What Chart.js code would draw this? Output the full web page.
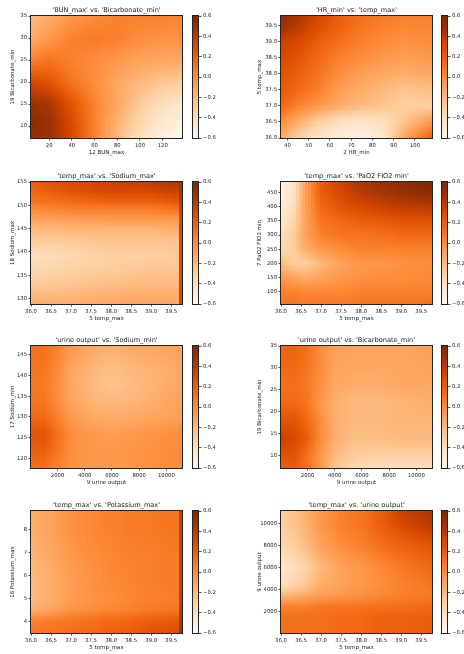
<!DOCTYPE html>
<html>
<head>
<meta charset="utf-8">
<script src="https://cdn.jsdelivr.net/npm/chart.js@4.4.0/dist/chart.umd.min.js"></script>
<style>
  html, body { margin: 0; padding: 0; background: #fff; overflow: hidden; }
  #fig { position: relative; width: 464px; height: 654px; overflow: hidden; }
  #fig canvas { position: absolute; }
</style>
</head>
<body>
<div id="fig"></div>
<script>
// ---- data: grid points (rows listed top to bottom) ----

// 'BUN_max' vs. 'Bicarbonate_min'
const bunX = [5, 20, 40, 60, 80, 100, 120, 136];
const bicarbY = [35, 30, 25, 20, 15, 10, 7];
const bunBicarbZ = [
  [-0.20, -0.15, -0.05, 0.00, 0.05, 0.05, 0.05, 0.05],
  [-0.15, -0.05, 0.05, 0.08, 0.05, 0.00, -0.02, -0.02],
  [0.05, 0.10, 0.05, 0.00, -0.05, -0.10, -0.12, -0.12],
  [0.30, 0.25, 0.10, 0.00, -0.12, -0.20, -0.25, -0.28],
  [0.50, 0.45, 0.25, 0.05, -0.12, -0.28, -0.40, -0.45],
  [0.55, 0.50, 0.30, 0.05, -0.18, -0.35, -0.48, -0.55],
  [0.52, 0.50, 0.30, 0.05, -0.20, -0.40, -0.55, -0.60]
];

// 'HR_min' vs. 'temp_max'
const hrX = [37, 45, 55, 65, 75, 85, 95, 108];
const tempY = [39.8, 39.5, 39.0, 38.5, 38.0, 37.5, 37.0, 36.5, 36.0];
const hrTempZ = [
  [0.55, 0.45, 0.30, 0.20, 0.12, 0.08, 0.05, 0.05],
  [0.50, 0.40, 0.28, 0.18, 0.10, 0.05, 0.03, 0.03],
  [0.35, 0.30, 0.20, 0.12, 0.05, 0.00, -0.02, 0.00],
  [0.30, 0.25, 0.15, 0.05, 0.00, -0.05, -0.08, -0.05],
  [0.25, 0.20, 0.10, 0.00, -0.08, -0.12, -0.15, -0.12],
  [0.22, 0.15, 0.05, -0.08, -0.15, -0.20, -0.25, -0.22],
  [0.15, 0.05, -0.05, -0.15, -0.20, -0.25, -0.30, -0.30],
  [0.00, -0.15, -0.30, -0.40, -0.45, -0.40, -0.25, -0.05],
  [-0.15, -0.30, -0.45, -0.50, -0.55, -0.45, -0.10, 0.20]
];

// 'temp_max' vs. 'Sodium_max'
const tempX5 = [36.0, 37.0, 38.0, 39.0, 39.70, 39.72];
const sodiumMaxY = [155, 153, 151, 149, 147, 145, 142, 139, 136, 133, 129];
const tempSodiumZ = [
  [0.20, 0.30, 0.35, 0.40, 0.45, 0.50],
  [0.15, 0.25, 0.30, 0.30, 0.35, 0.45],
  [0.10, 0.15, 0.20, 0.20, 0.25, 0.40],
  [0.00, 0.05, 0.05, 0.05, 0.10, 0.35],
  [-0.10, -0.08, -0.05, -0.05, -0.05, 0.30],
  [-0.20, -0.18, -0.18, -0.18, -0.15, 0.30],
  [-0.30, -0.28, -0.25, -0.25, -0.25, 0.30],
  [-0.40, -0.35, -0.30, -0.30, -0.28, 0.30],
  [-0.35, -0.30, -0.28, -0.25, -0.25, 0.30],
  [-0.28, -0.25, -0.22, -0.20, -0.20, 0.30],
  [-0.15, -0.15, -0.12, -0.12, -0.12, 0.30]
];

// 'temp_max' vs. 'PaO2 FIO2 min'
const tempX9 = [36.0, 36.3, 36.6, 37.0, 37.5, 38.0, 38.5, 39.0, 39.77];
const pao2Y = [488, 450, 400, 350, 300, 250, 200, 150, 100, 56];
const tempPao2Z = [
  [-0.55, -0.45, -0.10, 0.20, 0.35, 0.45, 0.50, 0.55, 0.60],
  [-0.55, -0.45, -0.10, 0.20, 0.30, 0.40, 0.45, 0.50, 0.55],
  [-0.50, -0.40, -0.10, 0.15, 0.25, 0.30, 0.35, 0.38, 0.40],
  [-0.45, -0.35, -0.10, 0.10, 0.15, 0.20, 0.22, 0.25, 0.25],
  [-0.40, -0.30, -0.10, 0.05, 0.10, 0.10, 0.12, 0.15, 0.15],
  [-0.35, -0.30, -0.15, -0.05, 0.00, 0.05, 0.05, 0.05, 0.05],
  [-0.20, -0.30, -0.30, -0.20, -0.10, -0.05, -0.05, -0.02, 0.00],
  [-0.05, -0.10, -0.15, -0.10, -0.05, -0.02, 0.00, 0.00, 0.02],
  [0.05, 0.05, 0.02, 0.02, 0.02, 0.05, 0.05, 0.05, 0.05],
  [0.10, 0.10, 0.08, 0.08, 0.08, 0.10, 0.10, 0.10, 0.12]
];

// 'urine output' vs. 'Sodium_min'
const urineX5 = [50, 1000, 2000, 3000, 4500, 6000, 8000, 10000, 11150];
const sodiumMinY = [147, 142, 138, 134, 130, 126, 122, 118];
const urineSodiumZ = [
  [0.12, 0.12, 0.05, -0.05, -0.12, -0.15, -0.12, -0.10, -0.10],
  [0.10, 0.10, 0.02, -0.10, -0.18, -0.22, -0.18, -0.15, -0.12],
  [0.08, 0.08, 0.00, -0.12, -0.20, -0.25, -0.20, -0.15, -0.12],
  [0.10, 0.10, 0.00, -0.10, -0.18, -0.20, -0.18, -0.12, -0.10],
  [0.15, 0.15, 0.05, -0.05, -0.12, -0.15, -0.12, -0.10, -0.08],
  [0.25, 0.25, 0.12, 0.00, -0.05, -0.08, -0.05, -0.02, 0.00],
  [0.20, 0.20, 0.10, 0.00, -0.05, -0.05, -0.03, 0.00, 0.00],
  [0.12, 0.12, 0.05, -0.02, -0.05, -0.05, -0.03, 0.00, 0.00]
];

// 'urine output' vs. 'Bicarbonate_min'
const urineX6 = [50, 1000, 2000, 3000, 4000, 5500, 7000, 9000, 11150];
const bicarbY6 = [35, 30, 26, 22, 18, 14, 10, 7];
const urineBicarbZ = [
  [0.18, 0.18, 0.12, 0.00, -0.08, -0.10, -0.10, -0.10, -0.08],
  [0.15, 0.15, 0.10, 0.00, -0.10, -0.12, -0.12, -0.12, -0.10],
  [0.12, 0.12, 0.08, -0.02, -0.12, -0.15, -0.15, -0.12, -0.12],
  [0.15, 0.15, 0.10, -0.05, -0.15, -0.20, -0.20, -0.18, -0.15],
  [0.25, 0.25, 0.15, 0.00, -0.15, -0.20, -0.20, -0.18, -0.18],
  [0.35, 0.30, 0.20, 0.00, -0.15, -0.22, -0.22, -0.20, -0.20],
  [0.25, 0.25, 0.12, -0.05, -0.20, -0.28, -0.30, -0.30, -0.30],
  [0.20, 0.20, 0.10, -0.05, -0.25, -0.35, -0.40, -0.40, -0.40]
];

// 'temp_max' vs. 'Potassium_max'
const tempX10 = [36.0, 36.5, 37.0, 37.5, 38.0, 38.5, 39.0, 39.5, 39.70, 39.72];
const potassiumY = [8.8, 8.0, 7.0, 6.0, 5.0, 4.5, 4.0, 3.5];
const tempPotassiumZ = [
  [-0.15, -0.10, -0.02, 0.02, 0.05, 0.08, 0.08, 0.10, 0.10, 0.35],
  [-0.15, -0.10, -0.02, 0.02, 0.05, 0.08, 0.08, 0.10, 0.10, 0.35],
  [-0.18, -0.12, -0.05, 0.00, 0.03, 0.05, 0.06, 0.08, 0.08, 0.35],
  [-0.20, -0.15, -0.07, -0.02, 0.02, 0.04, 0.06, 0.08, 0.08, 0.35],
  [-0.22, -0.15, -0.08, -0.03, 0.00, 0.03, 0.05, 0.06, 0.06, 0.35],
  [-0.15, -0.10, -0.03, 0.00, 0.03, 0.05, 0.08, 0.10, 0.10, 0.38],
  [0.05, 0.08, 0.10, 0.12, 0.15, 0.18, 0.20, 0.22, 0.22, 0.42],
  [0.08, 0.10, 0.12, 0.15, 0.18, 0.20, 0.25, 0.28, 0.28, 0.45]
];

// 'temp_max' vs. 'urine output'
const tempX8 = [36.0, 36.5, 37.0, 37.5, 38.0, 38.5, 39.0, 39.77];
const urineY = [11150, 10000, 8000, 6000, 4500, 3500, 2500, 1500, 57];
const tempUrineZ = [
  [-0.30, -0.20, -0.05, 0.05, 0.10, 0.20, 0.35, 0.45],
  [-0.30, -0.20, -0.05, 0.05, 0.10, 0.20, 0.30, 0.40],
  [-0.35, -0.25, -0.10, 0.00, 0.05, 0.12, 0.18, 0.25],
  [-0.45, -0.35, -0.20, -0.10, -0.05, 0.02, 0.08, 0.15],
  [-0.40, -0.30, -0.15, -0.10, -0.05, 0.00, 0.05, 0.10],
  [-0.20, -0.15, -0.08, -0.05, -0.02, 0.02, 0.05, 0.08],
  [0.05, 0.05, 0.08, 0.10, 0.10, 0.12, 0.12, 0.15],
  [0.12, 0.12, 0.12, 0.15, 0.15, 0.18, 0.18, 0.20],
  [0.12, 0.12, 0.12, 0.15, 0.15, 0.18, 0.18, 0.20]
];

// tick labels
const bunTicks = [20, 40, 60, 80, 100, 120];
const bicarbTicks = [10, 15, 20, 25, 30, 35];
const hrTicks = [40, 50, 60, 70, 80, 90, 100];
const tempTicks = [36.0, 36.5, 37.0, 37.5, 38.0, 38.5, 39.0, 39.5];
const sodiumMaxTicks = [130, 135, 140, 145, 150, 155];
const pao2Ticks = [100, 150, 200, 250, 300, 350, 400, 450];
const urineTicks = [2000, 4000, 6000, 8000, 10000];
const sodiumMinTicks = [120, 125, 130, 135, 140, 145];
const potassiumTicks = [4, 5, 6, 7, 8];
const colorbarTicks = [-0.6, -0.4, -0.2, 0.0, 0.2, 0.4, 0.6];

// ---- drawing ----
const FONT = 'DejaVu Sans';
const TEXT = '#1a1a1a';
const ORANGES = ['#fff5eb', '#fee6ce', '#fdd0a2', '#fdae6b', '#fd8d3c', '#f16913', '#d94801', '#a63603', '#7f2704'];
const VMIN = -0.6, VMAX = 0.6;
const CELLS = 50;

const stops = ORANGES.map(h => [1, 3, 5].map(i => parseInt(h.substr(i, 2), 16)));

function colorFor(v) {
  let t = (v - VMIN) / (VMAX - VMIN);
  t = Math.max(0, Math.min(1, t)) * (stops.length - 1);
  const i = Math.min(Math.floor(t), stops.length - 2);
  const f = t - i;
  return stops[i].map((c, k) => Math.round(c + (stops[i + 1][k] - c) * f));
}

// find segment of a monotonic array that holds v
function locate(arr, v) {
  const n = arr.length;
  for (let i = 0; i < n - 1; i++) {
    const a = arr[i], b = arr[i + 1];
    if (v >= Math.min(a, b) && v <= Math.max(a, b)) return [i, (v - a) / (b - a)];
  }
  const asc = arr[n - 1] > arr[0];
  if ((asc && v < arr[0]) || (!asc && v > arr[0])) return [0, 0];
  return [n - 2, 1];
}

function gridValue(g, xv, yv) {
  const [i, fx] = locate(g.xs, xv);
  const [j, fy] = locate(g.ys, yv);
  const z = g.z;
  const top = z[j][i] + (z[j][i + 1] - z[j][i]) * fx;
  const bot = z[j + 1][i] + (z[j + 1][i + 1] - z[j + 1][i]) * fx;
  return top + (bot - top) * fy;
}

function makeHeatmap(g) {
  return {
    id: 'heatmap',
    beforeDatasetsDraw(chart) {
      const {ctx, chartArea: a, scales: {x, y}} = chart;
      const w = Math.round(a.right - a.left), h = Math.round(a.bottom - a.top);
      const off = document.createElement('canvas');
      off.width = w; off.height = h;
      const octx = off.getContext('2d');
      const img = octx.createImageData(w, h);
      const cell = (s, v) => {
        const k = Math.min(CELLS - 1, Math.floor((v - s.min) / (s.max - s.min) * CELLS));
        return s.min + (k + 0.5) * (s.max - s.min) / CELLS;
      };
      for (let r = 0; r < h; r++) {
        const yv = cell(y, y.getValueForPixel(a.top + r + 0.5));
        for (let c = 0; c < w; c++) {
          const xv = cell(x, x.getValueForPixel(a.left + c + 0.5));
          const col = colorFor(gridValue(g, xv, yv));
          const p = (r * w + c) * 4;
          img.data[p] = col[0]; img.data[p + 1] = col[1]; img.data[p + 2] = col[2]; img.data[p + 3] = 255;
        }
      }
      octx.putImageData(img, 0, 0);
      ctx.drawImage(off, a.left, a.top);
    },
    afterDraw(chart) {
      const {ctx, chartArea: a} = chart;
      ctx.save();
      ctx.strokeStyle = '#222';
      ctx.lineWidth = 1;
      ctx.strokeRect(a.left - 0.5, a.top - 0.5, a.right - a.left + 1, a.bottom - a.top + 1);
      ctx.fillStyle = TEXT;
      ctx.font = '6.6px "' + FONT + '"';
      ctx.textAlign = 'center';
      ctx.textBaseline = 'bottom';
      ctx.fillText(g.title, (a.left + a.right) / 2, a.top - 2);
      ctx.restore();
    }
  };
}

const colorbarPlugin = {
  id: 'colorbar',
  beforeDatasetsDraw(chart) {
    const {ctx, chartArea: a} = chart;
    const grad = ctx.createLinearGradient(0, a.bottom, 0, a.top);
    ORANGES.forEach((c, i) => grad.addColorStop(i / (ORANGES.length - 1), c));
    ctx.save();
    ctx.fillStyle = grad;
    ctx.fillRect(a.left, a.top, a.right - a.left, a.bottom - a.top);
    ctx.strokeStyle = '#222';
    ctx.lineWidth = 1;
    ctx.strokeRect(a.left + 0.5, a.top - 0.5, a.right - a.left - 1, a.bottom - a.top + 1);
    ctx.restore();
  }
};

function fmt(decimals) {
  return v => (v < 0 ? '\u2212' : '') + Math.abs(v).toFixed(decimals);
}

function axis(min, max, ticks, decimals, title, extra) {
  return Object.assign({
    type: 'linear',
    min: min,
    max: max,
    afterBuildTicks: s => { s.ticks = ticks.map(v => ({value: v})); },
    ticks: {
      autoSkip: false, maxRotation: 0, padding: 1.5,
      color: TEXT, font: {family: FONT, size: 5.3},
      callback: fmt(decimals)
    },
    grid: {drawOnChartArea: false, tickLength: 2.5, color: '#222', lineWidth: 0.8},
    border: {display: false},
    title: {display: true, text: title, color: TEXT, font: {family: FONT, size: 5.5}, padding: 0}
  }, extra || {});
}

const fig = document.getElementById('fig');
function addCanvas(left, top, w, h) {
  const c = document.createElement('canvas');
  c.width = w; c.height = h;
  c.style.left = left + 'px'; c.style.top = top + 'px';
  c.style.width = w + 'px'; c.style.height = h + 'px';
  fig.appendChild(c);
  return c;
}

const TEMP = [36.0, 39.77];
const URINE = [50, 11150];
const panels = [
  {title: "'BUN_max' vs. 'Bicarbonate_min'", xs: bunX, ys: bicarbY, z: bunBicarbZ,
   x: [4, 137, bunTicks, 0, '12 BUN_max'], y: [7.3, 35, bicarbTicks, 0, '19 Bicarbonate_min']},
  {title: "'HR_min' vs. 'temp_max'", xs: hrX, ys: tempY, z: hrTempZ,
   x: [37, 108, hrTicks, 0, '2 HR_min'], y: [36.0, 39.8, tempTicks, 1, '5 temp_max']},
  {title: "'temp_max' vs. 'Sodium_max'", xs: tempX5, ys: sodiumMaxY, z: tempSodiumZ,
   x: [TEMP[0], TEMP[1], tempTicks, 1, '5 temp_max'], y: [128.8, 155, sodiumMaxTicks, 0, '18 Sodium_max']},
  {title: "'temp_max' vs. 'PaO2 FIO2 min'", xs: tempX9, ys: pao2Y, z: tempPao2Z,
   x: [TEMP[0], TEMP[1], tempTicks, 1, '5 temp_max'], y: [56, 488, pao2Ticks, 0, '7 PaO2 FIO2 min']},
  {title: "'urine output' vs. 'Sodium_min'", xs: urineX5, ys: sodiumMinY, z: urineSodiumZ,
   x: [URINE[0], URINE[1], urineTicks, 0, '9 urine output'], y: [117.7, 147.1, sodiumMinTicks, 0, '17 Sodium_min']},
  {title: "'urine output' vs. 'Bicarbonate_min'", xs: urineX6, ys: bicarbY6, z: urineBicarbZ,
   x: [URINE[0], URINE[1], urineTicks, 0, '9 urine output'], y: [7.2, 35, bicarbTicks, 0, '19 Bicarbonate_min']},
  {title: "'temp_max' vs. 'Potassium_max'", xs: tempX10, ys: potassiumY, z: tempPotassiumZ,
   x: [TEMP[0], TEMP[1], tempTicks, 1, '5 temp_max'], y: [3.5, 8.8, potassiumTicks, 0, '16 Potassium_max']},
  {title: "'temp_max' vs. 'urine output'", xs: tempX8, ys: urineY, z: tempUrineZ,
   x: [TEMP[0], TEMP[1], tempTicks, 1, '5 temp_max'], y: [57, 11150, urineTicks, 0, '9 urine output']}
];

// layout of the 4x2 grid
const rowTops = [16, 182, 346, 511];
const plotH = 122, plotW = 151;
const colX0 = [0, 232];
const plotL = [31, 281];
const cbL = [192, 441];
const TOP = 16, BOTTOM = 24, RIGHT = 8, CBW = 7, CBAXIS = 28;

panels.forEach((p, n) => {
  const r = Math.floor(n / 2), c = n % 2;
  const yw = plotL[c] - colX0[c];
  const cv = addCanvas(colX0[c], rowTops[r] - TOP, yw + plotW + RIGHT, TOP + plotH + BOTTOM);
  const ytitlePad = c === 0 ? 9.5 : 24;
  new Chart(cv, {
    type: 'scatter',
    data: {datasets: []},
    options: {
      responsive: false, animation: false, events: [],
      layout: {padding: {top: TOP, right: RIGHT, left: 0, bottom: 0}},
      plugins: {legend: {display: false}, tooltip: {enabled: false}},
      scales: {
        x: axis(p.x[0], p.x[1], p.x[2], p.x[3], p.x[4], {
          position: 'bottom',
          afterFit: s => { s.height = BOTTOM; }
        }),
        y: axis(p.y[0], p.y[1], p.y[2], p.y[3], p.y[4], {
          position: 'left',
          afterFit: s => { s.width = yw; }
        })
      }
    },
    plugins: [makeHeatmap(p)]
  });
  // axis title offsets
  const ch = Chart.getChart(cv);
  ch.options.scales.x.title.padding = {top: 0, bottom: 6};
  ch.options.scales.y.title.padding = {top: ytitlePad, bottom: 0};
  ch.update();

  // colorbar
  const cb = addCanvas(cbL[c], rowTops[r] - TOP, CBW + CBAXIS, TOP + plotH + BOTTOM);
  new Chart(cb, {
    type: 'scatter',
    data: {datasets: []},
    options: {
      responsive: false, animation: false, events: [],
      layout: {padding: {top: TOP, bottom: BOTTOM, left: 0, right: 0}},
      plugins: {legend: {display: false}, tooltip: {enabled: false}},
      scales: {
        x: {display: false, min: 0, max: 1},
        y: {
          position: 'right', min: VMIN, max: VMAX,
          afterBuildTicks: s => { s.ticks = colorbarTicks.map(v => ({value: v})); },
          afterFit: s => { s.width = CBAXIS; },
          ticks: {autoSkip: false, padding: 1.5, color: TEXT, font: {family: FONT, size: 5.3}, callback: fmt(1)},
          grid: {drawOnChartArea: false, tickLength: 2.5, color: '#222', lineWidth: 0.8},
          border: {display: false}
        }
      }
    },
    plugins: [colorbarPlugin]
  });
});
</script>
</body>
</html>
